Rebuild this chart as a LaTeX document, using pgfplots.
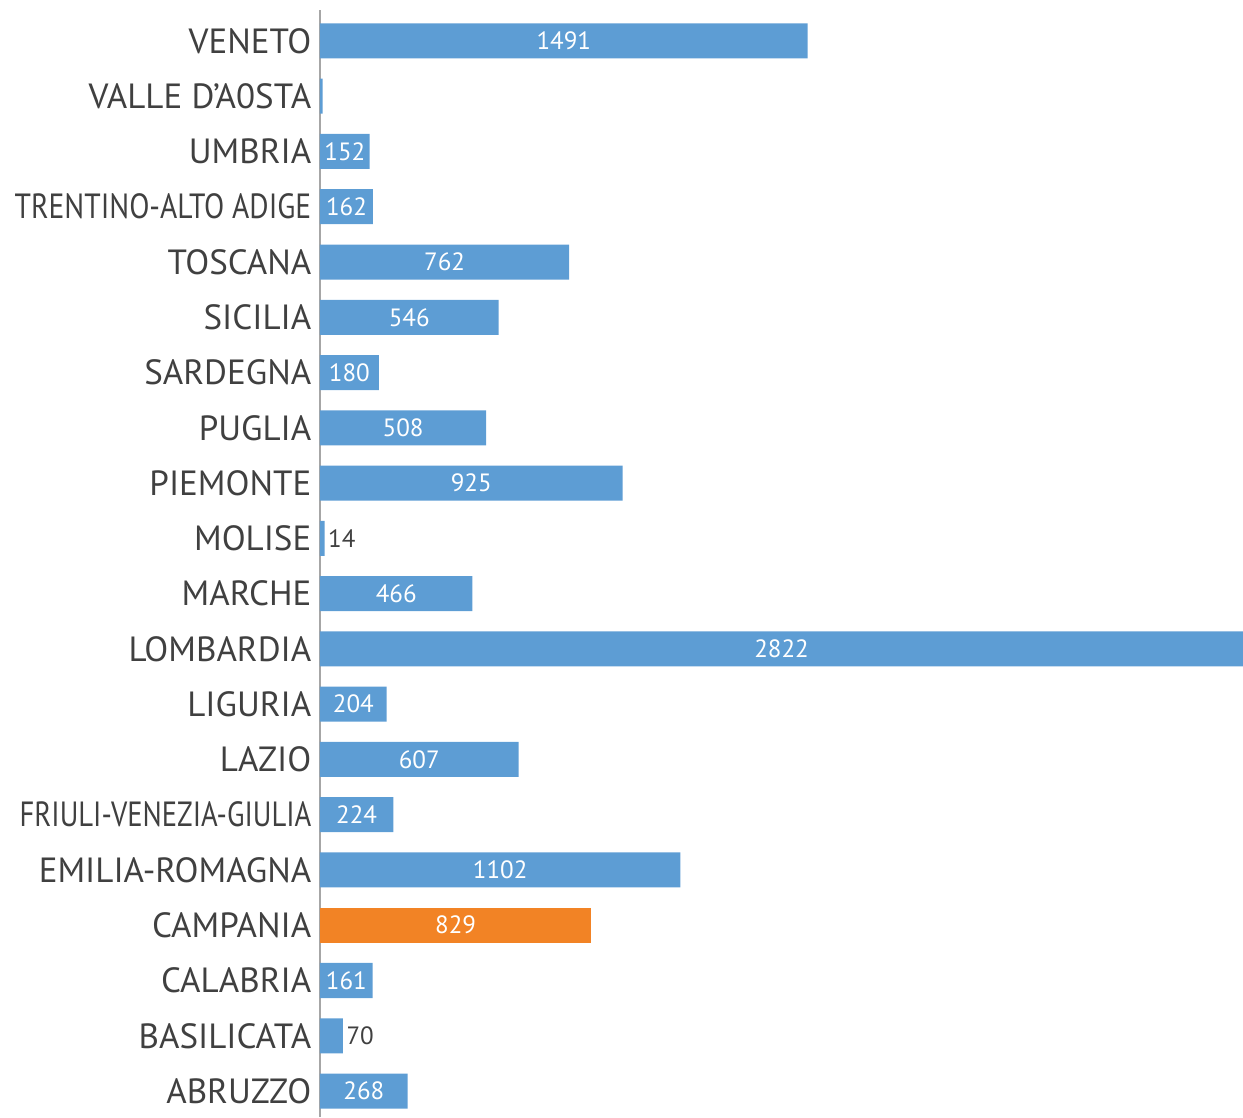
\documentclass[border=0pt]{standalone}
\usepackage{fontspec}
\setmainfont{PT Sans}
\usepackage{pgfplots}
\usepackage{pgfplotstable}
\pgfplotsset{compat=1.18}
\definecolor{barblue}{RGB}{93,157,212}
\definecolor{barorange}{RGB}{242,131,37}
\definecolor{labgray}{RGB}{64,64,64}
\definecolor{axgray}{RGB}{166,166,166}

% idx 0 = ABRUZZO (bottom) ... 19 = VENETO (top)
\pgfplotstableread{
idx v
0 268
1 70
2 161
3 829
4 1102
5 224
6 607
7 204
8 2822
9 466
10 14
11 925
12 508
13 180
14 546
15 762
16 162
17 152
18 8
19 1491
}\regioni

\begin{document}
\begin{tikzpicture}
\begin{axis}[
  scale only axis,
  width=553.8pt, height=664.2pt,
  xmin=0, xmax=2822,
  ymin=-0.47, ymax=19.56,
  axis x line=none,
  axis y line*=left,
  y axis line style={draw=axgray, line width=1.6pt},
  major tick length=0pt,
  ytick={0,...,19},
  yticklabels={ABRUZZO, BASILICATA, CALABRIA, CAMPANIA, EMILIA-ROMAGNA,
    \resizebox{175pt}{\height}{FRIULI-VENEZIA-GIULIA},
    LAZIO, LIGURIA, LOMBARDIA, MARCHE, MOLISE, PIEMONTE, PUGLIA, SARDEGNA,
    SICILIA, TOSCANA, \resizebox{178pt}{\height}{TRENTINO-ALTO ADIGE},
    UMBRIA, VALLE D’A0STA, VENETO},
  yticklabel style={font=\fontsize{21}{24}\selectfont, text=labgray,
    inner sep=0pt, xshift=-5pt},
  unbounded coords=discard,
  clip=false,
]
\addplot[xbar, bar width=21pt, bar shift=0pt, draw=none, fill=barblue]
  table[x expr={ifthenelse(\thisrow{idx}==3, nan, \thisrow{v})}, y=idx]{\regioni};
\addplot[xbar, bar width=21pt, bar shift=0pt, draw=none, fill=barorange]
  table[x expr={ifthenelse(\thisrow{idx}==3, \thisrow{v}, nan)}, y=idx]{\regioni};
% value labels inside the bars
\addplot[draw=none, mark=none, nodes near coords, point meta=explicit symbolic,
  nodes near coords style={anchor=center, text=white,
    font=\fontsize{15}{18}\selectfont}]
  table[x expr={ifthenelse(\thisrow{v}<100, nan, \thisrow{v}/2)}, y=idx, meta=v]{\regioni};
% labels of bars too short to hold them
\addplot[draw=none, mark=none, nodes near coords, point meta=explicit symbolic,
  nodes near coords style={anchor=west, text=labgray, inner sep=2pt,
    font=\fontsize{15}{18}\selectfont}]
  table[x expr={ifthenelse(\thisrow{v}<100 && \thisrow{v}>10, \thisrow{v}, nan)}, y=idx, meta=v]{\regioni};
\coordinate (sw) at (rel axis cs:0,0);
\coordinate (ne) at (rel axis cs:1,1);
\end{axis}
\pgfresetboundingbox
\path[use as bounding box] ([xshift=-192pt]sw) rectangle ([yshift=6pt]ne);
\end{tikzpicture}
\end{document}
